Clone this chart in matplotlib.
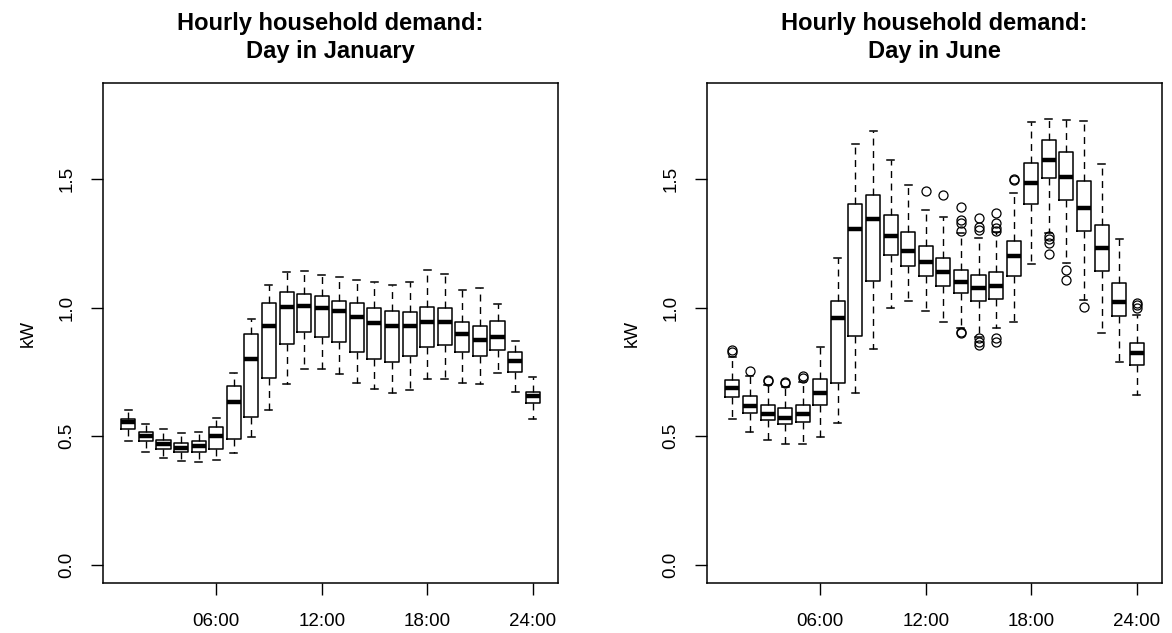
import numpy as np
import matplotlib.pyplot as plt

plt.rcParams['font.family'] = ['Liberation Sans', 'DejaVu Sans']

# ---- hourly demand summaries (kW), hours 01..24 ----
hours = list(range(1, 25))
tick_hours = [6, 12, 18, 24]
tick_labels = ['06:00', '12:00', '18:00', '24:00']

# January
jan_whislo = [0.481, 0.438, 0.414, 0.403, 0.399, 0.408, 0.434, 0.495, 0.602, 0.703, 0.762, 0.762,
              0.740, 0.707, 0.683, 0.668, 0.679, 0.722, 0.722, 0.707, 0.701, 0.746, 0.673, 0.568]
jan_q1 = [0.529, 0.481, 0.451, 0.440, 0.440, 0.451, 0.490, 0.576, 0.728, 0.857, 0.905, 0.886,
          0.867, 0.827, 0.799, 0.788, 0.810, 0.847, 0.855, 0.827, 0.813, 0.837, 0.750, 0.629]
jan_med = [0.554, 0.502, 0.471, 0.456, 0.462, 0.501, 0.631, 0.799, 0.929, 1.003, 1.007, 0.997,
           0.988, 0.964, 0.940, 0.929, 0.929, 0.945, 0.945, 0.896, 0.873, 0.886, 0.791, 0.655]
jan_q3 = [0.568, 0.515, 0.487, 0.474, 0.481, 0.534, 0.697, 0.896, 1.016, 1.060, 1.051, 1.046,
          1.027, 1.016, 0.997, 0.987, 0.983, 1.003, 0.997, 0.944, 0.929, 0.949, 0.829, 0.673]
jan_whishi = [0.601, 0.548, 0.527, 0.513, 0.518, 0.572, 0.746, 0.954, 1.088, 1.137, 1.142, 1.127,
              1.118, 1.108, 1.098, 1.088, 1.098, 1.147, 1.131, 1.070, 1.075, 1.012, 0.870, 0.732]
jan_fliers = [[] for _ in hours]

# June
jun_whislo = [0.567, 0.518, 0.486, 0.471, 0.471, 0.495, 0.553, 0.668, 0.839, 0.997, 1.025, 0.988,
              0.944, 0.920, 0.886, 0.919, 0.944, 1.170, 1.290, 1.174, 1.029, 0.901, 0.790, 0.659]
jun_q1 = [0.654, 0.592, 0.562, 0.548, 0.557, 0.621, 0.707, 0.890, 1.103, 1.205, 1.161, 1.122,
          1.083, 1.055, 1.025, 1.035, 1.122, 1.404, 1.503, 1.420, 1.299, 1.142, 0.967, 0.775]
jun_med = [0.686, 0.616, 0.588, 0.572, 0.588, 0.669, 0.960, 1.307, 1.345, 1.278, 1.221, 1.177,
           1.138, 1.099, 1.075, 1.083, 1.201, 1.486, 1.573, 1.509, 1.388, 1.230, 1.023, 0.825]
jun_q3 = [0.718, 0.655, 0.621, 0.610, 0.621, 0.723, 1.025, 1.404, 1.436, 1.359, 1.293, 1.238,
          1.194, 1.147, 1.127, 1.138, 1.258, 1.562, 1.653, 1.605, 1.494, 1.321, 1.094, 0.862]
jun_whishi = [0.809, 0.734, 0.699, 0.690, 0.712, 0.845, 1.194, 1.637, 1.687, 1.572, 1.475, 1.378,
              1.353, 1.289, 1.270, 1.294, 1.446, 1.720, 1.735, 1.730, 1.726, 1.557, 1.265, 0.971]
jun_fliers = [
    [0.835, 0.826], [0.755], [0.718, 0.713], [0.712, 0.707], [0.734, 0.727], [], [], [], [], [], [],
    [1.452], [1.437],
    [1.392, 1.340, 1.328, 1.298, 0.900, 0.905],
    [1.349, 1.314, 1.301, 0.880, 0.867, 0.854],
    [1.366, 1.327, 1.308, 1.298, 0.880, 0.867],
    [1.500, 1.495], [],
    [1.280, 1.268, 1.253, 1.210],
    [1.146, 1.107],
    [1.003], [], [],
    [1.019, 1.010, 0.997],
]


def make_stats(lo, q1, med, q3, hi, fl):
    return [dict(whislo=a, q1=b, med=c, q3=d, whishi=e, fliers=f)
            for a, b, c, d, e, f in zip(lo, q1, med, q3, hi, fl)]


def draw_panel(ax, stats, title):
    ax.bxp(stats, positions=hours, widths=0.8, capwidths=0.4,
           boxprops=dict(color='black', linewidth=1.1),
           medianprops=dict(color='black', linewidth=3.2, solid_capstyle='butt'),
           whiskerprops=dict(color='black', linewidth=1.0, linestyle=(0, (5, 4))),
           capprops=dict(color='black', linewidth=1.1),
           flierprops=dict(marker='o', markerfacecolor='none', markeredgecolor='black',
                           markersize=6.5, markeredgewidth=0.9))
    ax.set_xlim(-0.46, 25.46)
    ax.set_ylim(-0.072, 1.872)
    ax.set_xticks(tick_hours)
    ax.set_xticklabels(tick_labels)
    ax.set_yticks([0.0, 0.5, 1.0, 1.5])
    ax.set_yticklabels(['0.0', '0.5', '1.0', '1.5'])
    ax.tick_params(axis='x', length=8.6, width=1.0, pad=13, labelsize=13.5)
    ax.tick_params(axis='y', length=8.6, width=1.0, pad=11, labelsize=13.5, labelrotation=90)
    for lbl in ax.get_yticklabels():
        lbl.set_va('center')
    for s in ax.spines.values():
        s.set_linewidth(1.1)
    ax.set_ylabel('kW', fontsize=13.5)
    ax.yaxis.set_label_coords(-0.145, 0.5)
    ax.set_title(title, fontsize=17, fontweight='bold', pad=18, linespacing=1.28)


fig = plt.figure(figsize=(11.72, 6.33), dpi=100)
ax1 = fig.add_axes([0.0876, 0.0785, 0.3888, 0.7899])
ax2 = fig.add_axes([0.6030, 0.0785, 0.3888, 0.7899])

draw_panel(ax1, make_stats(jan_whislo, jan_q1, jan_med, jan_q3, jan_whishi, jan_fliers),
           'Hourly household demand:\nDay in January')
draw_panel(ax2, make_stats(jun_whislo, jun_q1, jun_med, jun_q3, jun_whishi, jun_fliers),
           'Hourly household demand:\nDay in June')

fig.savefig('out.png', dpi=100)
